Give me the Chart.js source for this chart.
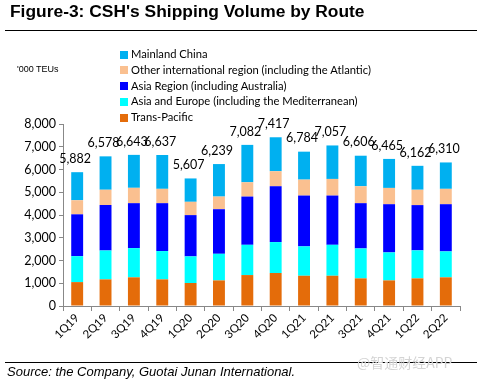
<!DOCTYPE html>
<html>
<head>
<meta charset="utf-8">
<script src="https://cdn.jsdelivr.net/npm/chart.js@4"></script>
<style>
  html, body { margin: 0; padding: 0; background: #fff; }
  #wrap { position: relative; width: 477px; height: 384px; overflow: hidden; }
  #chart { position: absolute; left: 0; top: 0; }
  .title { position: absolute; left: 10px; top: 1px; font: bold 17.4px "Liberation Sans", Arial, sans-serif; color: #000; white-space: nowrap; }
  .rule { position: absolute; left: 5px; right: 0; height: 1px; background: #000; }
  .unit { position: absolute; left: 17px; top: 64px; font: 9px "Liberation Sans", Arial, sans-serif; color: #000; }
  #legend { position: absolute; left: 120px; top: 46px; font: 11.2px Lato, "Open Sans", sans-serif; color: #000; }
  #legend div { height: 15.8px; line-height: 15.8px; white-space: nowrap; }
  #legend span { display: inline-block; width: 8px; height: 8px; margin-right: 3px; vertical-align: -0.5px; }
  .source { position: absolute; left: 7px; top: 364px; font: italic 13px "Liberation Sans", Arial, sans-serif; color: #000; white-space: nowrap; }
  .mark { position: absolute; left: 357px; top: 352px; font: 14px "Noto Sans CJK SC", sans-serif; color: #d4d4d4; white-space: nowrap; }
</style>
</head>
<body>
<div id="wrap">
  <canvas id="chart" width="477" height="384"></canvas>
  <div class="title">Figure-3: CSH's Shipping Volume by Route</div>
  <div class="rule" style="top:30px"></div>
  <div class="unit">'000 TEUs</div>
  <div id="legend"></div>
  <div class="rule" style="top:362px"></div>
  <div class="source">Source: the Company, Guotai Junan International.</div>
  <div class="mark">@智通财经APP</div>
</div>
<script>
const quarters = ['1Q19', '2Q19', '3Q19', '4Q19', '1Q20', '2Q20', '3Q20', '4Q20', '1Q21', '2Q21', '3Q21', '4Q21', '1Q22', '2Q22'];
const totals = [5882, 6578, 6643, 6637, 5607, 6239, 7082, 7417, 6784, 7057, 6606, 6465, 6162, 6310];
const transPacific = [1050, 1170, 1260, 1170, 1010, 1125, 1360, 1450, 1330, 1330, 1215, 1125, 1215, 1260];
const asiaEurope = [1140, 1270, 1285, 1245, 1170, 1170, 1330, 1360, 1290, 1360, 1315, 1230, 1230, 1140];
const asiaRegion = [1840, 2000, 1975, 2105, 1815, 1960, 2120, 2455, 2235, 2165, 1990, 2120, 1990, 2075];
const otherIntl = [620, 670, 675, 630, 585, 555, 630, 660, 700, 730, 745, 715, 675, 675];
// mainland China = what is left of each total
const mainland = totals.map((t, i) => t - transPacific[i] - asiaEurope[i] - asiaRegion[i] - otherIntl[i]);
const yTicks = [0, 1000, 2000, 3000, 4000, 5000, 6000, 7000, 8000];

const series = [
  { label: 'Trans-Pacific', data: transPacific, color: '#E46C0A' },
  { label: 'Asia and Europe (including the Mediterranean)', data: asiaEurope, color: '#00FFFF' },
  { label: 'Asia Region (including Australia)', data: asiaRegion, color: '#0000FF' },
  { label: 'Other international region (including the Atlantic)', data: otherIntl, color: '#FAC090' },
  { label: 'Mainland China', data: mainland, color: '#00B0F0' }
];

const FONT = 'Lato';

document.getElementById('legend').innerHTML = series.slice().reverse().map(s =>
  `<div><span style="background:${s.color}"></span>${s.label}</div>`
).join('');

const totalLabels = {
  id: 'totalLabels',
  afterDatasetsDraw(chart) {
    const ctx = chart.ctx;
    const top = chart.getDatasetMeta(series.length - 1);
    const y = chart.scales.y;
    ctx.save();
    ctx.font = `12.5px ${FONT}`;
    ctx.fillStyle = '#000';
    ctx.textAlign = 'center';
    ctx.textBaseline = 'bottom';
    top.data.forEach((bar, i) => {
      ctx.fillText(totals[i].toLocaleString('en-US'), bar.x - 2, y.getPixelForValue(totals[i]) - 7);
    });
    ctx.restore();
  }
};

new Chart(document.getElementById('chart'), {
  type: 'bar',
  data: {
    labels: quarters,
    datasets: series.map(s => ({
      label: s.label, data: s.data, backgroundColor: s.color,
      borderWidth: 0, barPercentage: 0.42, categoryPercentage: 1
    }))
  },
  options: {
    responsive: false, animation: false,
    layout: { padding: { left: 0, right: 17, top: 124, bottom: 28 } },
    plugins: { legend: { display: false }, tooltip: { enabled: false } },
    scales: {
      x: {
        stacked: true,
        afterFit: s => { s.height = 50; },
        border: { color: '#888', width: 1 },
        grid: { offset: true, drawOnChartArea: false, drawTicks: true, tickLength: 5, color: '#888' },
        ticks: { color: '#000', font: { family: FONT, size: 11.5 }, minRotation: 45, maxRotation: 45, padding: 0 }
      },
      y: {
        stacked: true, min: 0, max: 8000,
        afterFit: s => { s.width = 63; },
        afterBuildTicks: s => { s.ticks = yTicks.map(v => ({ value: v })); },
        border: { color: '#888', width: 1 },
        grid: { drawOnChartArea: false, drawTicks: true, tickLength: 4, color: '#888' },
        ticks: { color: '#000', font: { family: FONT, size: 12.5 }, padding: 3, callback: v => v.toLocaleString('en-US') }
      }
    }
  },
  plugins: [totalLabels]
});
</script>
</body>
</html>
